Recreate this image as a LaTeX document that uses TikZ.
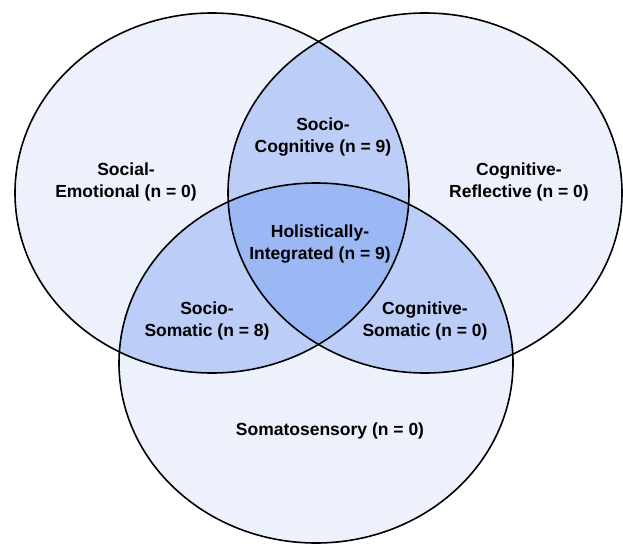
\documentclass[tikz,border=0pt]{standalone}
\usepackage{fontspec}
\setmainfont{Liberation Sans}
\usepackage{xcolor}
\usepackage{tikz}
\usetikzlibrary{positioning}
\definecolor{onec}{HTML}{EDF1FB}
\definecolor{twoc}{HTML}{BCCEF7}
\definecolor{threec}{HTML}{9BB8F5}
\tikzset{
  vset/.style={x radius=197pt,y radius=180pt},
  edge/.style={draw=black,line width=1.6pt},
  lbl/.style={align=center,inner sep=0pt,font=\fontsize{17.5}{22}\selectfont\bfseries}
}

\begin{document}
\begin{tikzpicture}[x=1pt,y=-1pt]
\useasboundingbox (0,0) rectangle (623,545);
\coordinate (cL) at (212,193);
\coordinate (cR) at (425,193);
\coordinate (cB) at (316,363);
% single sets
\fill[onec] (cL) ellipse [vset];
\fill[onec] (cR) ellipse [vset];
\fill[onec] (cB) ellipse [vset];
% pairwise overlaps
\begin{scope}
\clip (cL) ellipse [vset];
\fill[twoc] (cR) ellipse [vset];
\fill[twoc] (cB) ellipse [vset];
\end{scope}
\begin{scope}
\clip (cR) ellipse [vset];
\fill[twoc] (cB) ellipse [vset];
\end{scope}
% centre
\begin{scope}
\clip (cL) ellipse [vset];
\clip (cR) ellipse [vset];
\fill[threec] (cB) ellipse [vset];
\end{scope}
\draw[edge] (cL) ellipse [vset];
\draw[edge] (cR) ellipse [vset];
\draw[edge] (cB) ellipse [vset];
% labels
\node[lbl] (socemo) at (126,182) {Social-\\Emotional (n = 0)};
\node[lbl] (soccog) at (323,137) {Socio-\\Cognitive (n = 9)};
\node[lbl] (cogref) at (519,182) {Cognitive-\\Reflective (n = 0)};
\node[lbl] (holint) at (320,244) {Holistically-\\Integrated (n = 9)};
\node[lbl] (socsom) at (207,321) {Socio-\\Somatic (n = 8)};
\node[lbl] (cogsom) at (425,321) {Cognitive-\\Somatic (n = 0)};
\node[lbl] (somsen) at (330,431) {Somatosensory (n = 0)};
\end{tikzpicture}
\end{document}
